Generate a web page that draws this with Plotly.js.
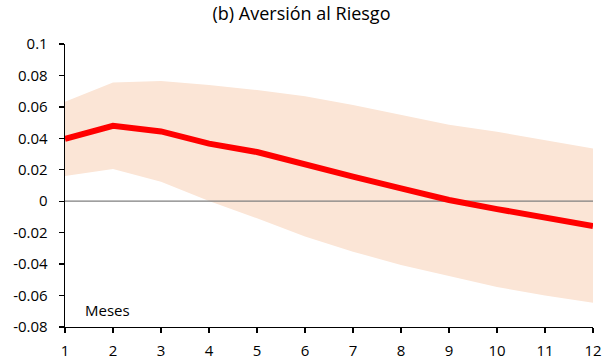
<!DOCTYPE html>
<html>
<head>
<meta charset="utf-8">
<script src="https://cdn.plot.ly/plotly-3.0.1.min.js"></script>
<style>html,body{margin:0;padding:0;background:#fff;}#chart{width:603px;height:362px;}</style>
</head>
<body>
<div id="chart"></div>
<script>
const months = [1, 2, 3, 4, 5, 6, 7, 8, 9, 10, 11, 12];
const response = [0.0396, 0.048, 0.0444, 0.0366, 0.0313, 0.023, 0.0156, 0.0082, 0.0008, -0.005, -0.0107, -0.0158];
const upperBand = [0.0633, 0.0755, 0.0765, 0.0739, 0.0707, 0.0667, 0.0612, 0.0549, 0.0487, 0.0442, 0.039, 0.0335];
const lowerBand = [0.016, 0.0205, 0.0124, 0.0002, -0.0109, -0.0224, -0.0321, -0.0405, -0.0476, -0.0546, -0.06, -0.0646];
const yTickVals = [-0.08, -0.06, -0.04, -0.02, 0, 0.02, 0.04, 0.06, 0.08, 0.1];
const yTickText = ["-0.08", "-0.06", "-0.04", "-0.02", "0", "0.02", "0.04", "0.06", "0.08", "0.1"];
const xTickText = ["1", "2", "3", "4", "5", "6", "7", "8", "9", "10", "11", "12"];

const font = "Open Sans, Noto Sans, sans-serif";

const traces = [
  {x: months, y: lowerBand, type: "scatter", mode: "lines", line: {width: 0, color: "#FBE5D6"}, hoverinfo: "skip", showlegend: false},
  {x: months, y: upperBand, type: "scatter", mode: "lines", fill: "tonexty", fillcolor: "#FBE5D6", line: {width: 0, color: "#FBE5D6"}, hoverinfo: "skip", showlegend: false},
  {x: [months[0], months[months.length-1]], y: [0, 0], type: "scatter", mode: "lines", line: {width: 1.3, color: "#7F7F7F"}, showlegend: false},
  {x: months, y: response, type: "scatter", mode: "lines", line: {width: 6, color: "#FF0000"}, showlegend: false}
];

const layout = {
  width: 603, height: 362,
  margin: {l: 65, r: 10, t: 44, b: 35},
  paper_bgcolor: "#fff", plot_bgcolor: "#fff",
  showlegend: false,
  font: {family: font, size: 15, color: "#000"},
  title: {text: "(b) Aversión al Riesgo", font: {family: font, size: 18, color: "#000"}, x: 0.5, xanchor: "center", y: 0.963, yanchor: "middle"},
  xaxis: {
    range: [1, 12], tickvals: months, ticktext: xTickText,
    showgrid: false, zeroline: false, showline: true, linecolor: "#000", linewidth: 1.3,
    ticks: "outside", ticklen: 5, tickcolor: "#000", tickwidth: 1.3, ticklabelstandoff: 5,
    tickfont: {family: font, size: 15, color: "#000"}
  },
  yaxis: {
    range: [-0.08, 0.1], tickvals: yTickVals, ticktext: yTickText,
    showgrid: false, zeroline: false, showline: true, linecolor: "#000", linewidth: 1.3,
    ticks: "outside", ticklen: 5, tickcolor: "#000", tickwidth: 1.3, ticklabelstandoff: 8,
    tickfont: {family: font, size: 15, color: "#000"}
  },
  annotations: [
    {text: "Meses", xref: "x", yref: "y", x: 1.38, y: -0.0695, xanchor: "left", yanchor: "middle", showarrow: false, font: {family: font, size: 15, color: "#000"}}
  ]
};

Plotly.newPlot("chart", traces, layout, {displayModeBar: false, staticPlot: true});
</script>
</body>
</html>
